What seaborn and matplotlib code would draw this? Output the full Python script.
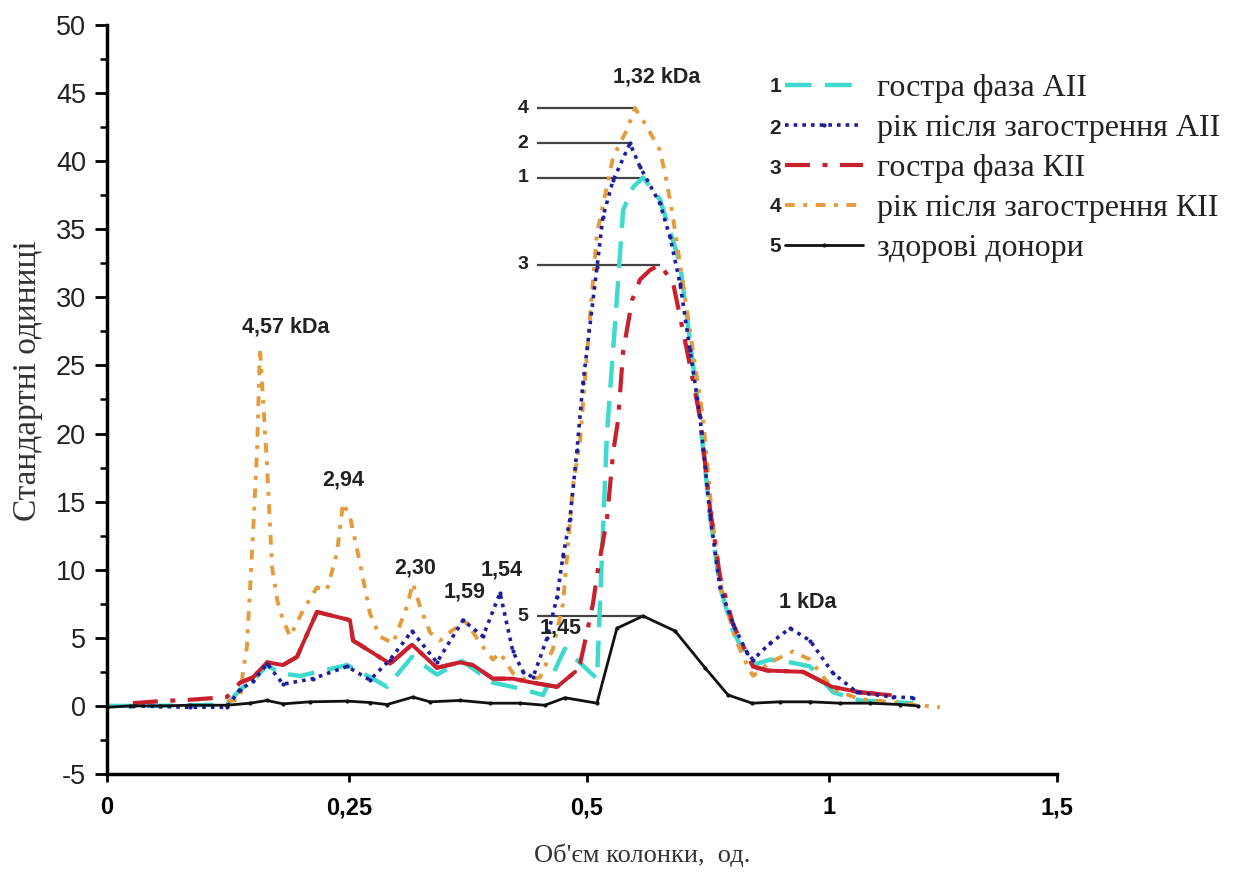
import numpy as np
import matplotlib
matplotlib.use("Agg")
import matplotlib.pyplot as plt
import seaborn as sns
from matplotlib.ticker import MultipleLocator, FixedLocator, FixedFormatter

# ---------------- data (x in display-axis units: tick "0"=0 ... "1,5"=4) ----------------
x_tick_pos = [0.0, 1.02, 2.02, 3.04, 4.0]
x_tick_labels = ["0", "0,25", "0,5", "1", "1,5"]

series_names = ["гостра фаза АІІ", "рік після загострення АІІ",
                "гостра фаза КІІ", "рік після загострення КІІ", "здорові донори"]
series_numbers = ["1", "2", "3", "4", "5"]

x_acute_ai = [0.000, 0.223, 0.505, 0.560, 0.623, 0.674, 0.728, 0.813, 1.011, 1.120, 1.179, 1.284,
              1.389, 1.495, 1.625, 1.709, 1.836, 1.928, 2.063, 2.105, 2.139, 2.173, 2.215, 2.257,
              2.328, 2.413, 2.497, 2.539, 2.581, 2.636, 2.695, 2.720, 2.792, 2.876, 2.960, 3.057,
              3.171, 3.394]
y_acute_ai = [0.0, 0.0, 0.1, 1.2, 2.0, 3.0, 2.4, 2.2, 3.0, 2.0, 1.4, 3.6,
              2.3, 3.3, 1.7, 1.4, 0.8, 4.2, 2.0, 20.0, 28.0, 36.4, 38.1, 38.8,
              37.2, 32.5, 21.0, 14.0, 8.7, 5.5, 3.5, 3.0, 3.4, 3.2, 2.9, 1.0,
              0.4, 0.2]

x_year_ai = [0.109, 0.349, 0.505, 0.560, 0.615, 0.674, 0.741, 0.867, 1.011, 1.107, 1.192, 1.284,
             1.389, 1.499, 1.583, 1.655, 1.709, 1.752, 1.794, 1.853, 1.895, 1.920, 1.949, 1.979,
             2.004, 2.063, 2.088, 2.131, 2.202, 2.244, 2.328, 2.371, 2.413, 2.455, 2.497, 2.539,
             2.581, 2.636, 2.695, 2.720, 2.792, 2.876, 2.960, 3.057, 3.158, 3.309, 3.394]
y_year_ai = [0.0, -0.1, -0.1, 1.2, 1.8, 3.1, 1.6, 2.0, 2.9, 1.9, 3.4, 5.5,
             3.2, 6.3, 5.1, 8.3, 4.0, 2.5, 2.1, 5.0, 8.0, 11.0, 13.7, 18.8,
             23.7, 32.2, 35.9, 38.6, 41.3, 39.6, 36.9, 34.4, 31.0, 26.1, 21.2, 14.0,
             8.7, 6.0, 3.9, 3.4, 4.6, 5.7, 4.8, 2.4, 1.0, 0.65, 0.6]

x_acute_ki = [0.109, 0.223, 0.349, 0.505, 0.560, 0.615, 0.674, 0.741, 0.800, 0.884, 1.023, 1.036,
              1.192, 1.284, 1.389, 1.486, 1.541, 1.625, 1.709, 1.794, 1.895, 1.971, 1.992, 2.021,
              2.046, 2.067, 2.105, 2.131, 2.152, 2.173, 2.211, 2.244, 2.286, 2.328, 2.383, 2.442,
              2.497, 2.539, 2.581, 2.636, 2.695, 2.720, 2.779, 2.931, 3.053, 3.171, 3.297]
y_acute_ki = [0.2, 0.35, 0.45, 0.65, 1.7, 2.1, 3.2, 3.0, 3.6, 6.9, 6.3, 4.8,
              3.1, 4.5, 2.8, 3.2, 3.0, 2.0, 2.0, 1.7, 1.4, 2.5, 3.1, 5.4,
              7.5, 10.0, 13.7, 18.6, 21.0, 26.0, 29.8, 31.3, 32.0, 32.4, 31.1, 26.1,
              21.2, 14.5, 9.5, 6.0, 3.8, 2.9, 2.6, 2.5, 1.4, 1.0, 0.8]

x_year_ki = [0.505, 0.560, 0.573, 0.589, 0.615, 0.632, 0.644, 0.674, 0.695, 0.716, 0.741, 0.771,
             0.825, 0.884, 0.926, 0.968, 0.994, 1.023, 1.065, 1.107, 1.149, 1.204, 1.263, 1.288,
             1.318, 1.360, 1.402, 1.457, 1.516, 1.571, 1.625, 1.655, 1.709, 1.768, 1.823, 1.878,
             1.920, 1.962, 1.992, 2.034, 2.063, 2.131, 2.189, 2.223, 2.274, 2.328, 2.358, 2.383,
             2.425, 2.467, 2.509, 2.547, 2.589, 2.644, 2.695, 2.720, 2.792, 2.888, 2.960, 3.057,
             3.171, 3.339, 3.507]
y_year_ki = [0.3, 0.5, 2.6, 4.3, 12.7, 18.8, 26.3, 17.6, 10.2, 7.8, 6.3, 5.1,
             7.0, 8.7, 8.5, 11.2, 14.9, 13.9, 10.5, 6.8, 5.1, 4.6, 7.3, 9.0,
             7.3, 5.4, 4.8, 5.6, 6.1, 4.6, 3.4, 3.9, 2.4, 1.9, 2.1, 4.2,
             7.5, 16.1, 19.5, 28.6, 34.7, 40.3, 42.3, 43.9, 42.5, 40.8, 38.4, 35.9,
             31.0, 26.1, 21.2, 14.0, 8.5, 5.0, 3.0, 2.2, 3.2, 4.0, 3.4, 1.2,
             0.5, 0.2, -0.1]

x_donors = [0.000, 0.097, 0.223, 0.349, 0.505, 0.602, 0.674, 0.741, 0.855, 1.011, 1.107, 1.179,
            1.288, 1.360, 1.486, 1.613, 1.739, 1.844, 1.928, 2.063, 2.147, 2.257, 2.392, 2.518,
            2.615, 2.716, 2.834, 2.960, 3.086, 3.213, 3.339, 3.415]
y_donors = [-0.1, 0.0, 0.0, 0.05, 0.05, 0.2, 0.4, 0.15, 0.3, 0.35, 0.25, 0.1,
            0.65, 0.3, 0.4, 0.2, 0.2, 0.05, 0.6, 0.2, 5.7, 6.6, 5.5, 2.8,
            0.8, 0.2, 0.3, 0.3, 0.2, 0.2, 0.1, 0.0]

peak_labels = ["4,57 kDa", "2,94", "2,30", "1,59", "1,54", "1,45", "1,32 kDa", "1 kDa"]
peak_label_x = [0.754, 0.994, 1.297, 1.507, 1.663, 1.912, 2.316, 2.952]
peak_label_y = [27.8, 16.6, 10.1, 8.4, 10.0, 5.7, 46.2, 7.6]

# ---------------- styling ----------------
sns.set_theme(style="ticks")
plt.rcParams['font.family'] = ['Liberation Sans', 'DejaVu Sans']
plt.rcParams['axes.unicode_minus'] = False

W, H = 1244, 872
fig = plt.figure(figsize=(W / 100, H / 100), dpi=100)
ax = fig.add_axes([107 / W, 1 - 774 / H, 950 / W, 749 / H])

c_cyan = '#3fd9cf'
c_blue = '#1e1e9c'
c_red = '#c9202c'
c_orange = '#e59b3c'
c_black = '#111111'

def draw(x, y, **kw):
    sns.lineplot(x=np.asarray(x), y=np.asarray(y), ax=ax, sort=False,
                 estimator=None, legend=False, **kw)
    return ax.lines[-1]

h1 = draw(x_acute_ai, y_acute_ai, color=c_cyan, lw=3.2, linestyle=(0, (6, 3)))
h4 = draw(x_year_ki, y_year_ki, color=c_orange, lw=2.8, linestyle=(0, (2.5, 2.2, 1, 2.2)))
h3 = draw(x_acute_ki, y_acute_ki, color=c_red, lw=3.0, linestyle=(0, (6, 3, 1.2, 3)))
# parts of the same red series that appear solid in the original
xr = np.asarray(x_acute_ki); yr = np.asarray(y_acute_ki)
for m in [(xr >= 0.56) & (xr <= 1.98), (xr >= 2.72)]:
    draw(xr[m], yr[m], color=c_red, lw=2.8)
h2 = draw(x_year_ai, y_year_ai, color=c_blue, lw=2.6, linestyle=(0, (1, 1.4)),
          marker='o', markersize=3, markeredgewidth=0)
h5 = draw(x_donors, y_donors, color=c_black, lw=2.0, marker='o', markersize=3,
          markeredgewidth=0)

ax.set_xlim(0, 4.0)
ax.set_ylim(-5, 50)
ax.xaxis.set_major_locator(FixedLocator(x_tick_pos))
ax.xaxis.set_major_formatter(FixedFormatter(x_tick_labels))
ax.yaxis.set_major_locator(MultipleLocator(5))
ax.yaxis.set_minor_locator(MultipleLocator(2.5))
ax.set_xlabel("")
ax.set_ylabel("")

for s in ['top', 'right']:
    ax.spines[s].set_visible(False)
for s in ['left', 'bottom']:
    ax.spines[s].set_linewidth(2.5)
    ax.spines[s].set_color('black')

ax.tick_params(axis='y', which='major', direction='out', length=9, width=2,
               labelsize=19.5, pad=6, colors='black')
ax.tick_params(axis='y', which='minor', direction='out', length=5, width=1.8, colors='black')
ax.tick_params(axis='x', which='major', direction='out', length=6, width=2,
               labelsize=17, pad=10, colors='black')
for t in ax.get_xticklabels():
    t.set_fontweight('bold')
for t in ax.get_yticklabels():
    t.set_color('#222222')

# peak annotation lines (numbers 4,2,1,3,5)
line_x0 = 1.811
num_x = 1.752
for xs, ys, num in [(x_year_ki, y_year_ki, "4"), (x_year_ai, y_year_ai, "2"),
                    (x_acute_ai, y_acute_ai, "1"), (x_acute_ki, y_acute_ki, "3"),
                    (x_donors, y_donors, "5")]:
    i = int(np.argmax(ys))
    ax.hlines(ys[i], line_x0, xs[i], color='#444444', lw=1.6, zorder=1)
    ax.text(num_x, ys[i], num, ha='center', va='center', fontsize=14,
            fontweight='bold', color='#222222')

for lab, lx, ly in zip(peak_labels, peak_label_x, peak_label_y):
    ax.text(lx, ly, lab, ha='center', va='center', fontsize=15.5,
            fontweight='bold', color='#222222')

# axis titles
fig.text(28 / W, 1 - 381 / H, "Стандартні одиниці", rotation=90, ha='center',
         va='center', fontsize=24, family=['Liberation Serif', 'DejaVu Serif'],
         color='#333333')
fig.text(642 / W, 1 - 855 / H, "Об'єм колонки,  од.", ha='center', va='center',
         fontsize=19, family=['Liberation Serif', 'DejaVu Serif'], color='#333333')

# legend
leg = ax.legend([h1, h2, h3, h4, h5], series_names, loc='upper left',
                bbox_to_anchor=(785 / W, 1 - 74 / H), bbox_transform=fig.transFigure,
                frameon=False, prop={'family': 'Liberation Serif', 'size': 23},
                handlelength=2.45, handletextpad=0.44, labelspacing=0.33,
                borderpad=0, borderaxespad=0)
for t in leg.get_texts():
    t.set_color('#222222')
row_y = [87, 128, 168, 207, 247]
for num, ry in zip(series_numbers, row_y):
    fig.text(775 / W, 1 - ry / H, num, ha='center', va='center', fontsize=15,
             fontweight='bold', color='#222222')

fig.savefig("out.png", dpi=100)
